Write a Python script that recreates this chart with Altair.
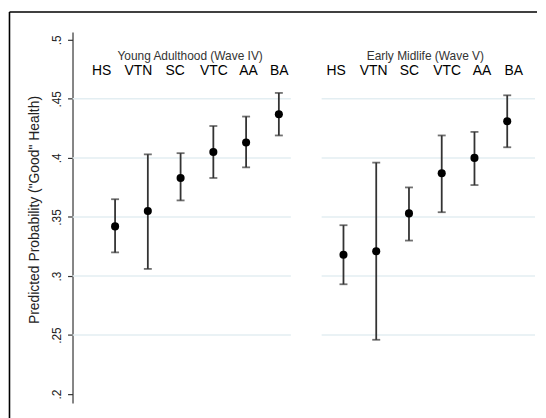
import altair as alt
import pandas as pd

categories = ["HS", "VTN", "SC", "VTC", "AA", "BA"]

wave4_est = [0.342, 0.355, 0.383, 0.405, 0.413, 0.437]
wave4_lo = [0.320, 0.306, 0.364, 0.383, 0.392, 0.419]
wave4_hi = [0.365, 0.403, 0.404, 0.427, 0.435, 0.455]

wave5_est = [0.318, 0.321, 0.353, 0.387, 0.400, 0.431]
wave5_lo = [0.293, 0.246, 0.330, 0.354, 0.377, 0.409]
wave5_hi = [0.343, 0.396, 0.375, 0.419, 0.422, 0.453]

grid_values = [0.25, 0.30, 0.35, 0.40, 0.45]
y_ticks = [0.20, 0.25, 0.30, 0.35, 0.40, 0.45, 0.50]

y_title = 'Predicted Probability ("Good" Health)'
panel_titles = ["Young Adulthood (Wave IV)", "Early Midlife (Wave V)"]

FONT = "Liberation Sans"
GRID = "#e3eef2"

yscale = alt.Scale(domain=[0.1924, 0.5067], nice=False, zero=False)

# horizontal nudges of the header labels (pixels), as in the original layout
left_label_nudge = {"HS": -14, "VTN": -10, "SC": -6, "VTC": 0, "AA": 2, "BA": 0}
right_label_nudge = {"HS": -8, "VTN": -3, "SC": 0, "VTC": 5, "AA": 7, "BA": 6}


def y_axis(show):
    if not show:
        return None
    return alt.Axis(
        values=y_ticks,
        labelExpr="slice(format(datum.value, '~g'), 1)",
        labelAngle=270, labelAlign="center", labelBaseline="alphabetic",
        labelPadding=7, labelFontSize=12, labelColor="#222",
        tickSize=5, tickColor="#333", tickWidth=1.2,
        domainColor="#333", domainWidth=1.2, grid=False,
        title=y_title, titleFontSize=14, titleFontWeight="normal",
        titleAngle=270, titleX=-34, titleY=179, titleAlign="center",
        titleBaseline="alphabetic", titleColor="#222",
    )


def panel(est, lo, hi, title, show_y, width, pad, align, title_x, nudge):
    df = pd.DataFrame({"cat": categories, "est": est, "lo": lo, "hi": hi})
    gdf = pd.DataFrame({"g": grid_values})
    offset_cond = {
        "condition": [
            {"test": f"datum.value === '{k}'", "value": v} for k, v in nudge.items()
        ],
        "value": 0,
    }
    xenc = alt.X(
        "cat:N", sort=categories,
        scale=alt.Scale(type="point", padding=pad, align=align),
        axis=alt.Axis(
            orient="top", domain=False, ticks=False, tickSize=0,
            labelPadding=-43, labelBaseline="alphabetic", labelAngle=0,
            labelFontSize=14, labelColor="black", labelOffset=offset_cond,
            title=title, titleX=title_x, titleY=28, titleFontSize=12,
            titleFontWeight="normal", titleColor="#333",
            titleAlign="center", titleBaseline="alphabetic", grid=False,
        ),
    )
    ya = y_axis(show_y)
    grid = alt.Chart(gdf).mark_rule(color=GRID, strokeWidth=1.5).encode(
        y=alt.Y("g:Q", scale=yscale, axis=ya)
    )
    bars = alt.Chart(df).mark_errorbar(
        ticks=True, size=8, thickness=1.8, color="#333333"
    ).encode(
        x=xenc,
        y=alt.Y("lo:Q", scale=yscale, axis=ya),
        y2="hi:Q",
    )
    pts = alt.Chart(df).mark_circle(size=66, opacity=1, color="black").encode(
        x=xenc,
        y=alt.Y("est:Q", scale=yscale, axis=ya),
    )
    layers = [grid, bars, pts]
    if show_y:
        one = pd.DataFrame({"a": [0]})
        vline = alt.Chart(one).mark_rule(color="black", strokeWidth=1.6).encode(
            x=alt.value(-63.5), y=alt.value(-20), y2=alt.value(390)
        )
        hline = alt.Chart(one).mark_rule(color="black", strokeWidth=1.6).encode(
            x=alt.value(-63.5), x2=alt.value(468), y=alt.value(-20)
        )
        layers += [vline, hline]
    return alt.layer(*layers).properties(width=width, height=374)


left = panel(wave4_est, wave4_lo, wave4_hi, panel_titles[0], True,
             220, 0.833, 0.78, 118, left_label_nudge)
right = panel(wave5_est, wave5_lo, wave5_hi, panel_titles[1], False,
              215, 0.758, 0.44, 104, right_label_nudge)

chart = alt.hconcat(left, right, spacing=31, bounds="flush").properties(
    padding={"left": 0, "top": 1.5, "right": 0, "bottom": 0},
    background="white",
).configure(font=FONT).configure_view(stroke=None)

chart.save("out.html", embed_options={"renderer": "svg", "actions": False})
